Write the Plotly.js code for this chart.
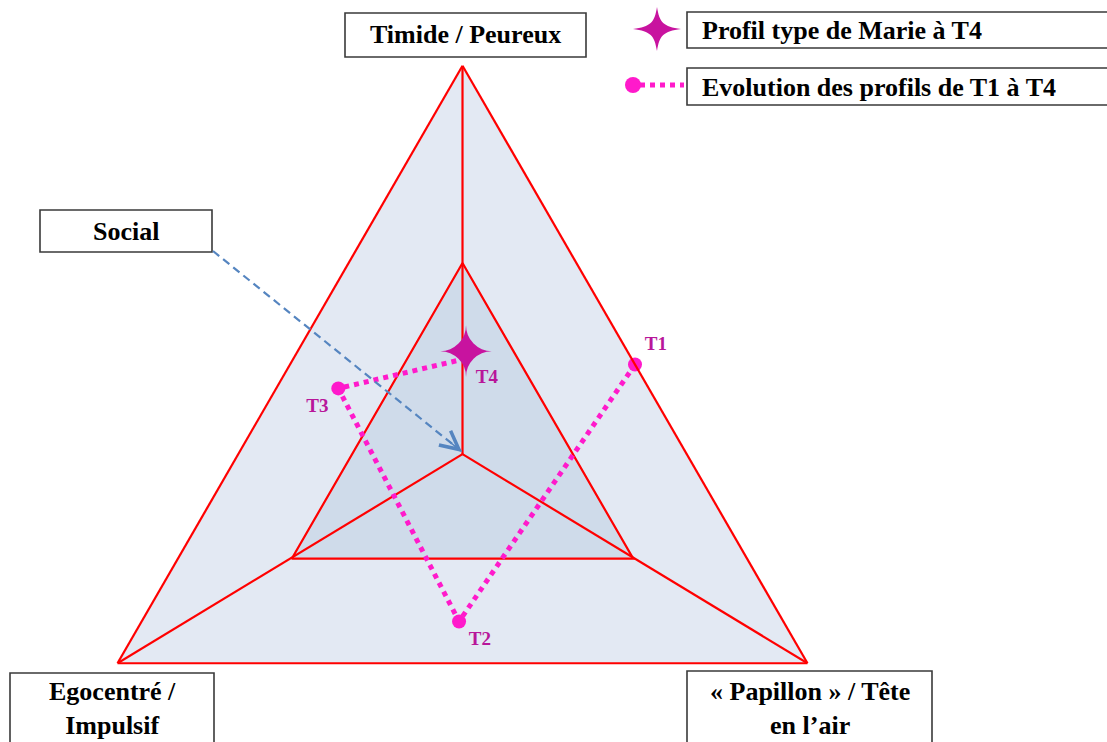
<!DOCTYPE html>
<html>
<head>
<meta charset="utf-8">
<script src="https://cdn.plot.ly/plotly-3.0.1.min.js"></script>
<style>
html, body { margin: 0; padding: 0; background: #fff; }
#chart { width: 1107px; height: 742px; }
</style>
</head>
<body>
<div id="chart"></div>
<script>
// axes of the triangle (a = top, b = bottom left, c = bottom right)
const axisNames = ['Timide / Peureux', 'Egocentré /<br>Impulsif', '« Papillon » / Tête<br>en l’air']

// inner triangle and its centre, in % of each profile
const innerTimide = [67, 17.5, 17.5, 67]
const innerEgo = [16.5, 66, 16.5, 16.5]
const innerPapillon = [16.5, 16.5, 66, 16.5]
const centre = [35, 32.5, 32.5]

// profile of Marie from T1 to T4
const profileLabels = ['T1', 'T2', 'T3', 'T4']
const profileTimide = [50, 7, 46, 51]
const profileEgo = [0, 47, 45, 24]
const profilePapillon = [50, 46, 9, 25]

const legendTexts = ['Profil type de Marie à T4', 'Evolution des profils de T1 à T4']
const socialText = 'Social'
const starGlyph = '✦'

const red = '#ff0000'
const pink = '#ff1acb'
const purple = '#c8139f'
const labelColor = '#b8169a'
const arrowBlue = '#5585c0'
const serif = 'Liberation Serif, Times New Roman, serif'

// spokes: centre -> each corner, gaps between segments
const spokeA = [centre[0], 100, null, centre[0], 0, null, centre[0], 0]
const spokeB = [centre[1], 0, null, centre[1], 100, null, centre[1], 0]
const spokeC = [centre[2], 0, null, centre[2], 0, null, centre[2], 100]

const last = profileLabels.length - 1

const data = [
  {
    type: 'scatterternary', mode: 'lines',
    a: innerTimide, b: innerEgo, c: innerPapillon,
    fill: 'toself', fillcolor: '#cfdbea',
    line: {color: red, width: 2.2},
    hoverinfo: 'skip', showlegend: false
  },
  {
    type: 'scatterternary', mode: 'lines',
    a: spokeA, b: spokeB, c: spokeC,
    connectgaps: false,
    line: {color: red, width: 2.2},
    hoverinfo: 'skip', showlegend: false
  },
  {
    type: 'scatterternary', mode: 'lines+markers+text',
    a: profileTimide, b: profileEgo, c: profilePapillon,
    text: profileLabels,
    cliponaxis: false,
    textposition: ['top right', 'bottom right', 'bottom left', 'bottom right'],
    textfont: {family: serif, size: 19, weight: 'bold', color: labelColor},
    line: {color: pink, width: 5, dash: 'dot'},
    marker: {
      size: 14,
      opacity: 1,
      color: profileLabels.map((t, i) => i === last ? 'rgba(0,0,0,0)' : pink),
      line: {width: 0}
    },
    hoverinfo: 'skip', showlegend: false
  },
  // star for the last profile (T4)
  {
    type: 'scatterternary', mode: 'text',
    a: [profileTimide[last]], b: [profileEgo[last]], c: [profilePapillon[last]],
    text: [starGlyph], textposition: 'middle center', cliponaxis: false,
    textfont: {family: 'DejaVu Sans', size: 68, color: purple},
    hoverinfo: 'skip', showlegend: false
  },
  // legend sample for the profile line
  {
    type: 'scatter', mode: 'lines', x: [640, 684], y: [85, 85],
    line: {color: pink, width: 5, dash: 'dot'},
    hoverinfo: 'skip', showlegend: false
  },
  {
    type: 'scatter', mode: 'markers', x: [633], y: [85],
    marker: {symbol: 'circle', size: 16, color: pink},
    hoverinfo: 'skip', showlegend: false
  }
]

const hiddenAxis = {
  title: {text: ''}, showticklabels: false, ticks: '',
  showgrid: false, showline: true, linecolor: red, linewidth: 2.2
}

const box = (x0, y0, x1, y1) => ({
  type: 'rect', xref: 'x', yref: 'y', x0: x0, y0: y0, x1: x1, y1: y1,
  fillcolor: '#ffffff', line: {color: '#3a3a3a', width: 1.6}, layer: 'above'
})

// thin four pointed star for the legend sample
const starPath = (cx, cy, rx, ry, w) => {
  const arm = (x1, y1, sx, sy) =>
    `C${cx + sx * w},${cy + sy * 2.5 * w} ${cx + sx * 2.5 * w},${cy + sy * w} ${x1},${y1} `
  return `M${cx},${cy - ry} ` + arm(cx + rx, cy, 1, -1) +
    `C${cx + 2.5 * w},${cy + w} ${cx + w},${cy + 2.5 * w} ${cx},${cy + ry} ` +
    `C${cx - w},${cy + 2.5 * w} ${cx - 2.5 * w},${cy + w} ${cx - rx},${cy} ` +
    `C${cx - 2.5 * w},${cy - w} ${cx - w},${cy - 2.5 * w} ${cx},${cy - ry} Z`
}

const label = (x, y, text, anchor) => ({
  xref: 'x', yref: 'y', x: x, y: y, text: text, showarrow: false,
  xanchor: anchor || 'center', yanchor: 'middle', align: 'center',
  font: {family: serif, size: 26, weight: 'bold', color: '#000'}
})

const layout = {
  width: 1107,
  height: 742,
  margin: {l: 0, r: 0, t: 0, b: 0},
  paper_bgcolor: '#ffffff',
  plot_bgcolor: 'rgba(0,0,0,0)',
  showlegend: false,
  xaxis: {range: [0, 1107], visible: false, fixedrange: true},
  yaxis: {range: [742, 0], visible: false, fixedrange: true},
  ternary: {
    sum: 100,
    domain: {x: [0.0678, 0.7678], y: [0.1061, 0.9114]},
    bgcolor: '#e3e9f3',
    aaxis: hiddenAxis,
    baxis: hiddenAxis,
    caxis: hiddenAxis
  },
  shapes: [
    box(345, 13, 586, 57),
    box(40, 210, 212, 252),
    box(10, 673, 214, 760),
    box(687, 671, 932, 760),
    box(687, 12, 1112, 48),
    box(687, 68, 1112, 105),
    {
      type: 'path', xref: 'x', yref: 'y', path: starPath(657, 29, 24, 22, 2.5),
      fillcolor: purple, line: {width: 0}, layer: 'above'
    },
    {
      type: 'line', xref: 'x', yref: 'y', x0: 213, y0: 251, x1: 461, y1: 451,
      line: {color: arrowBlue, width: 2.2, dash: '8px,5px'}, layer: 'above'
    }
  ],
  annotations: [
    label(465.5, 34, axisNames[0]),
    label(126, 231, socialText),
    label(112, 708, axisNames[1]),
    label(809.5, 708, axisNames[2]),
    label(700, 30, legendTexts[0], 'left'),
    label(700, 87, legendTexts[1], 'left'),
    {
      xref: 'x', yref: 'y', axref: 'x', ayref: 'y',
      x: 462, y: 452, ax: 448, ay: 440.5, text: '',
      showarrow: true, arrowhead: 5, arrowsize: 2.4, arrowwidth: 1.5, arrowcolor: arrowBlue
    }
  ]
}

Plotly.newPlot(document.getElementById('chart'), data, layout, {displayModeBar: false, staticPlot: true})
</script>
</body>
</html>
